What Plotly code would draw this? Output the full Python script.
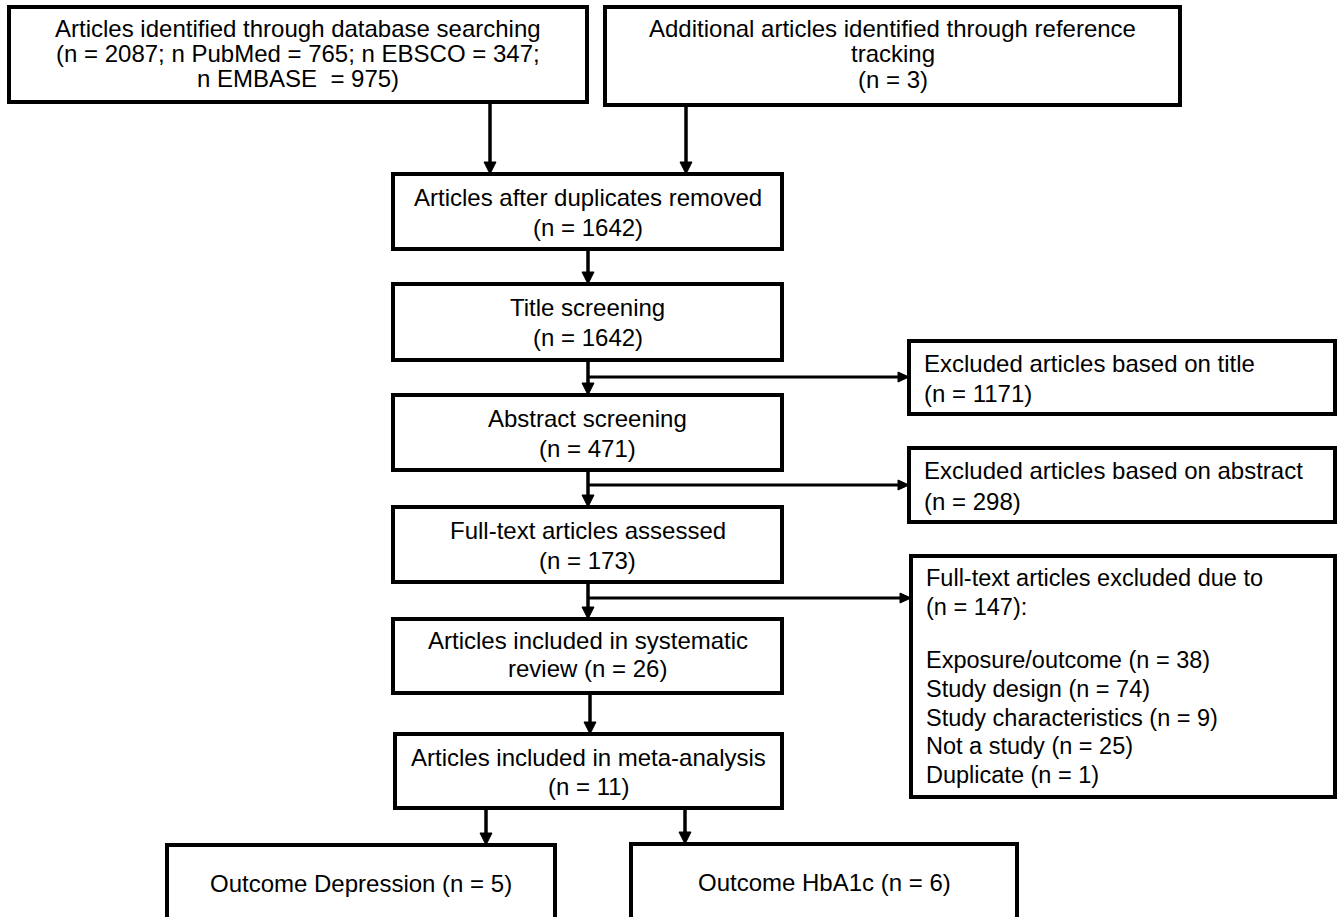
import plotly.graph_objects as go

W, H = 1337, 917
FONT = "Liberation Sans, Arial, Helvetica, sans-serif"

# ---- data (counts shown in the flow diagram) ----
n_database = 2087
n_pubmed = 765
n_ebsco = 347
n_embase = 975
n_reference = 3
n_after_dupes = 1642
n_title = 1642
n_excl_title = 1171
n_abstract = 471
n_excl_abstract = 298
n_fulltext = 173
n_excl_fulltext = 147
excl_reasons = ["Exposure/outcome", "Study design", "Study characteristics", "Not a study", "Duplicate"]
excl_counts = [38, 74, 9, 25, 1]
n_systematic = 26
n_meta = 11
outcome_names = ["Depression", "HbA1c"]
outcome_counts = [5, 6]

# ---- layout of boxes (pixels) ----
boxes = [
    dict(x0=9, x1=587, y0=7, y1=102, size=24, align="center",
         lines=["Articles identified through database searching",
                f"(n = {n_database}; n PubMed = {n_pubmed}; n EBSCO = {n_ebsco};",
                f"n EMBASE  = {n_embase})"],
         ys=[28, 53, 78]),
    dict(x0=605, x1=1180, y0=7, y1=105, size=24, align="center",
         lines=["Additional articles identified through reference", "tracking", f"(n = {n_reference})"],
         ys=[28, 53, 79]),
    dict(x0=393, x1=782, y0=174, y1=249, size=24, align="center",
         lines=["Articles after duplicates removed", f"(n = {n_after_dupes})"], ys=[197, 227]),
    dict(x0=393, x1=782, y0=284, y1=360, size=24, align="center",
         lines=["Title screening", f"(n = {n_title})"], ys=[307, 337]),
    dict(x0=393, x1=782, y0=395, y1=470, size=24, align="center",
         lines=["Abstract screening", f"(n = {n_abstract})"], ys=[418, 448]),
    dict(x0=393, x1=782, y0=507, y1=582, size=24, align="center",
         lines=["Full-text articles assessed", f"(n = {n_fulltext})"], ys=[530, 560]),
    dict(x0=393, x1=782, y0=619, y1=693, size=24, align="center",
         lines=["Articles included in systematic", f"review (n = {n_systematic})"], ys=[640, 668]),
    dict(x0=395, x1=782, y0=734, y1=808, size=24, align="center",
         lines=["Articles included in meta-analysis", f"(n = {n_meta})"], ys=[757, 786]),
    dict(x0=167, x1=555, y0=845, y1=922, size=24, align="center",
         lines=[f"Outcome {outcome_names[0]} (n = {outcome_counts[0]})"], ys=[883]),
    dict(x0=631, x1=1017, y0=844, y1=922, size=24, align="center",
         lines=[f"Outcome {outcome_names[1]} (n = {outcome_counts[1]})"], ys=[882]),
    dict(x0=909, x1=1335, y0=341, y1=414, size=24, align="left",
         lines=["Excluded articles based on title", f"(n = {n_excl_title})"], ys=[363, 393]),
    dict(x0=909, x1=1335, y0=448, y1=522, size=24, align="left",
         lines=["Excluded articles based on abstract", f"(n = {n_excl_abstract})"], ys=[470, 501]),
    dict(x0=911, x1=1335, y0=556, y1=797, size=23.5, align="left",
         lines=["Full-text articles excluded due to", f"(n = {n_excl_fulltext}):", ""]
               + [f"{r} (n = {c})" for r, c in zip(excl_reasons, excl_counts)],
         ys=[578, 607, 633, 660, 689, 718, 746, 775]),
]

# vertical arrows: (x, y_start, y_end); horizontal arrows: (y, x_start, x_end)
v_arrows = [(490, 102, 174), (686, 105, 174), (588, 249, 284), (588, 360, 395),
            (588, 470, 507), (588, 582, 619), (590, 693, 734), (486, 808, 845), (685, 808, 844)]
h_arrows = [(377, 588, 909), (485, 588, 909), (598, 588, 911)]

fig = go.Figure()
shapes = []
annotations = []

for b in boxes:
    shapes.append(dict(type="rect", x0=b["x0"], x1=b["x1"], y0=b["y0"], y1=b["y1"],
                       xref="x", yref="y", line=dict(color="black", width=4),
                       fillcolor="white", layer="below"))
    for txt, yy in zip(b["lines"], b["ys"]):
        if not txt:
            continue
        if b["align"] == "center":
            xx, xa = (b["x0"] + b["x1"]) / 2, "center"
        else:
            xx, xa = b["x0"] + 13, "left"
        annotations.append(dict(x=xx, y=yy, xref="x", yref="y", text=txt, showarrow=False,
                                xanchor=xa, yanchor="middle",
                                font=dict(family=FONT, size=b["size"], color="black")))

HL, HW = 12, 6
for x, ys, ye in v_arrows:
    shapes.append(dict(type="line", x0=x, x1=x, y0=ys, y1=ye - HL + 1, xref="x", yref="y",
                       line=dict(color="black", width=3.5)))
    shapes.append(dict(type="path", path=f"M {x-HW} {ye-HL} L {x+HW} {ye-HL} L {x} {ye} Z",
                       xref="x", yref="y", fillcolor="black", line=dict(color="black", width=1)))
for y, xs, xe in h_arrows:
    shapes.append(dict(type="line", x0=xs, x1=xe - 10, y0=y, y1=y, xref="x", yref="y",
                       line=dict(color="black", width=3)))
    shapes.append(dict(type="path", path=f"M {xe-11} {y-5} L {xe-11} {y+5} L {xe} {y} Z",
                       xref="x", yref="y", fillcolor="black", line=dict(color="black", width=1)))

fig.update_layout(
    width=W, height=H, margin=dict(l=0, r=0, t=0, b=0),
    paper_bgcolor="white", plot_bgcolor="white",
    xaxis=dict(range=[0, W], visible=False, fixedrange=True),
    yaxis=dict(range=[H, 0], visible=False, fixedrange=True),
    shapes=shapes, annotations=annotations, showlegend=False,
)

fig.write_html("out.html", post_script="document.body.style.margin='0';",
               config=dict(displayModeBar=False))
